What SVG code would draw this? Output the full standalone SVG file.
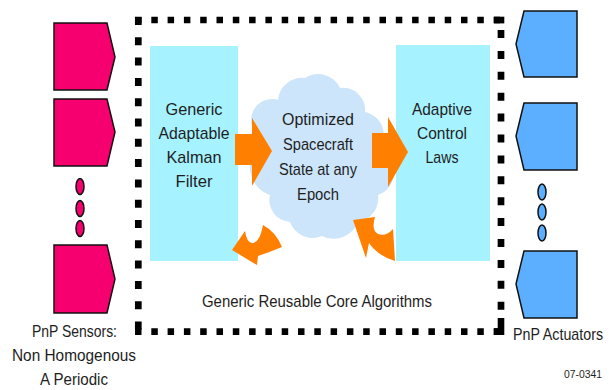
<svg xmlns="http://www.w3.org/2000/svg" width="609" height="390" viewBox="0 0 609 390">
<style>
  text { font-family: "Liberation Sans", Arial, sans-serif; font-size: 17px; fill: #1e1e1e; text-anchor: middle; }
  text.code { font-size: 11px; }
  .sensor { fill: #F5006E; stroke: #111; stroke-width: 1.5; }
  .act { fill: #5CAEFF; stroke: #111; stroke-width: 1.5; }
  .box { fill: #A6F2FF; }
  .orange { fill: #FF8000; }
  .hdash { fill: none; stroke: #000; stroke-width: 6.7; stroke-dasharray: 6.5 9.8; }
  .vdash { fill: none; stroke: #000; stroke-width: 6.7; }
</style>
<rect width="609" height="390" fill="#fff"/>

<g id="border">
  <path class="hdash" d="M135,20 H501"/>
  <path class="hdash" d="M135,331.7 H501"/>
  <path class="vdash" d="M138.3,17 V336" stroke-dasharray="8 12.3"/>
  <path class="vdash" d="M501,30 V318" stroke-dasharray="8 12.9"/>
  <rect x="494" y="16.7" width="10.3" height="6.7" fill="#000"/>
  <path d="M494,328.3 H497.7 V318 H504.3 V335 H494 Z" fill="#000"/>
</g>

<g id="kalman">
  <rect class="box" x="150" y="46" width="88" height="215"/>
  <text x="194" y="115" textLength="57" lengthAdjust="spacingAndGlyphs">Generic</text>
  <text x="194" y="139" textLength="71" lengthAdjust="spacingAndGlyphs">Adaptable</text>
  <text x="194" y="163" textLength="55" lengthAdjust="spacingAndGlyphs">Kalman</text>
  <text x="194" y="187" textLength="37" lengthAdjust="spacingAndGlyphs">Filter</text>
</g>

<g id="control">
  <rect class="box" x="396" y="45" width="94" height="216"/>
  <text x="442" y="115" textLength="60" lengthAdjust="spacingAndGlyphs">Adaptive</text>
  <text x="442" y="139" textLength="50" lengthAdjust="spacingAndGlyphs">Control</text>
  <text x="442" y="163" textLength="33" lengthAdjust="spacingAndGlyphs">Laws</text>
</g>

<g id="state">
  <path fill="#CCE5FA" d="M266,140 A20,20 0 0 1 278,100 A24,24 0 0 1 305,78 A24,24 0 0 1 340,88 A22,22 0 0 1 365,112 A24,24 0 0 1 379,150 A24,24 0 0 1 378,195 A24,24 0 0 1 358,222 A26,26 0 0 1 322,236 A24,24 0 0 1 290,222 A22,22 0 0 1 270,195 A30,30 0 0 1 266,140 Z"/>
  <text x="318" y="125" textLength="72" lengthAdjust="spacingAndGlyphs">Optimized</text>
  <text x="318" y="150" textLength="70" lengthAdjust="spacingAndGlyphs">Spacecraft</text>
  <text x="318" y="175" textLength="78" lengthAdjust="spacingAndGlyphs">State at any</text>
  <text x="318" y="200" textLength="42" lengthAdjust="spacingAndGlyphs">Epoch</text>
</g>

<g id="connectors">
  <polygon class="orange" points="235,134 252,134 252,118 272,151 252,186 252,165 235,165"/>
  <polygon class="orange" points="372,133 388,133 388,117 408,152 388,187 388,168 372,168"/>
  <path class="orange" d="M232,250 L245,231 Q247,244 253,243 Q260,242 263,225 Q276,232 282,247 Q270,252 258,256 L257,265 Z"/>
  <path class="orange" d="M353,220 L375,217 Q371,230 378,234 Q386,237 393,229 L395,261 Q378,256 369,243 L366,258 Z"/>
</g>

<g id="sensors">
  <polygon class="sensor" points="54,23 107,23 115,57 107,90 54,90"/>
  <polygon class="sensor" points="54,99 107,99 115,132 107,166 54,166"/>
  <ellipse class="sensor" cx="80" cy="186.5" rx="4" ry="8"/>
  <ellipse class="sensor" cx="80" cy="208.5" rx="4" ry="8"/>
  <ellipse class="sensor" cx="80" cy="228.5" rx="4" ry="8"/>
  <polygon class="sensor" points="54,245 107,245 115,279 107,313 54,313"/>
  <text x="74.5" y="337" textLength="85" lengthAdjust="spacingAndGlyphs">PnP Sensors:</text>
  <text x="74" y="361" textLength="124" lengthAdjust="spacingAndGlyphs">Non Homogenous</text>
  <text x="74" y="385" textLength="68" lengthAdjust="spacingAndGlyphs">A Periodic</text>
</g>

<g id="actuators">
  <polygon class="act" points="524,11 577,11 577,77 524,77 516,44"/>
  <polygon class="act" points="524,103 577,103 577,170 524,170 516,136"/>
  <ellipse class="act" cx="542" cy="192" rx="4" ry="8"/>
  <ellipse class="act" cx="542" cy="212" rx="4" ry="8"/>
  <ellipse class="act" cx="542" cy="233" rx="4" ry="8"/>
  <polygon class="act" points="524,251 577,251 577,318 524,318 516,284"/>
  <text x="558" y="340" textLength="90" lengthAdjust="spacingAndGlyphs">PnP Actuators</text>
</g>

<g id="core-label">
  <text x="317" y="307" textLength="230" lengthAdjust="spacingAndGlyphs">Generic Reusable Core Algorithms</text>
</g>

<text class="code" x="583" y="378" textLength="38" lengthAdjust="spacingAndGlyphs">07-0341</text>
</svg>
